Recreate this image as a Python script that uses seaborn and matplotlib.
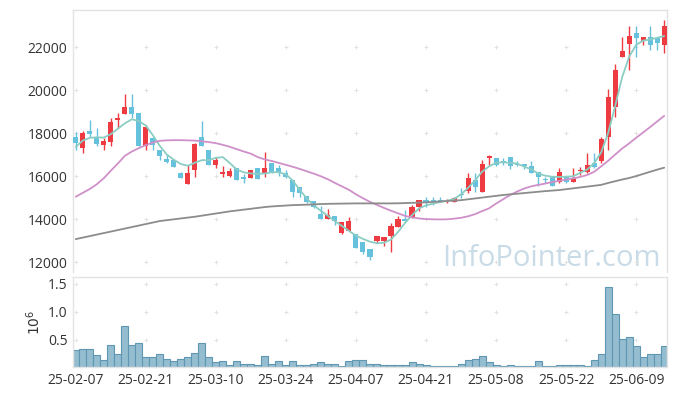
import matplotlib
matplotlib.use("Agg")
import matplotlib.pyplot as plt
import seaborn as sns
import pandas as pd
import numpy as np

# 일봉 데이터 (25-02-07 ~ 25-06-13, 거래일 기준)
opens = [17830, 17320, 18090, 17830, 17440, 17600, 18600, 18900, 19210, 18930,
         17410, 17750, 17210, 16790, 16740, 16140, 15610, 16260, 17830, 17210,
         16510, 16080, 16020, 16360, 15950, 15900, 16360, 16090, 16620, 16360,
         16150, 15810, 15470, 15070, 14840, 14220, 14000, 14160, 13360, 13460,
         13300, 12930, 12590, 12980, 12990, 13220, 13640, 14000, 14070, 14570,
         14910, 14880, 14880, 14820, 14810, 15150, 15320, 15810, 15270, 16820,
         16830, 16710, 16880, 16560, 16560, 16460, 16190, 15880, 16000, 15710,
         15970, 15740, 16250, 16200, 16590, 16700, 17800, 19220, 21550, 22120,
         22630, 22290, 22450, 22400, 22090]
highs = [18060, 18090, 18600, 18220, 17750, 18720, 18920, 19800, 19800, 18950,
         18370, 17830, 17210, 17020, 16760, 16180, 16510, 17520, 18560, 17210,
         16900, 16480, 16360, 16360, 16100, 16280, 16360, 17100, 16620, 16510,
         16280, 15810, 15470, 15070, 14840, 14610, 14450, 14160, 13850, 14080,
         13300, 12930, 12590, 13210, 13160, 13800, 14150, 14400, 14650, 14910,
         15040, 15010, 15010, 14920, 15010, 15430, 16150, 16120, 16730, 16980,
         16830, 16830, 16880, 16710, 16560, 16680, 16190, 15970, 16000, 16390,
         16000, 16360, 16430, 17060, 17060, 17830, 20030, 21210, 22450, 22980,
         22980, 22450, 22980, 22450, 23250]
lows = [17210, 17080, 17830, 17380, 17210, 17410, 18250, 18900, 18680, 17400,
        17210, 17210, 16740, 16590, 16400, 15900, 15610, 15970, 17410, 16510,
        16360, 15970, 15970, 15810, 15660, 15900, 15860, 15970, 16130, 16000,
        15900, 15010, 15010, 14760, 14500, 14000, 14000, 13720, 13300, 13460,
        12640, 12400, 12090, 12870, 12740, 12460, 13640, 13920, 14040, 14390,
        14540, 14650, 14800, 14740, 14810, 14960, 15220, 15270, 15270, 16510,
        16450, 16510, 16310, 16450, 16310, 16150, 15530, 15660, 15550, 15660,
        15660, 15740, 16050, 16150, 16360, 16590, 17210, 18760, 21550, 20930,
        21550, 22100, 21860, 21860, 21730]
closes = [17550, 18020, 17940, 17470, 17650, 18530, 18720, 19210, 18900, 17410,
          18290, 17440, 16940, 16670, 16430, 15920, 16160, 17500, 17420, 16520,
          16740, 16200, 16220, 15820, 15850, 16280, 15870, 16360, 16200, 16130,
          15940, 15270, 15220, 14800, 14570, 14000, 14190, 13920, 13850, 13920,
          12670, 12480, 12220, 13210, 13160, 13700, 14000, 13930, 14540, 14910,
          14740, 14840, 14840, 14860, 14960, 15110, 15890, 15470, 16540, 16930,
          16510, 16620, 16470, 16500, 16480, 16150, 15970, 15840, 15550, 16170,
          15740, 15890, 16300, 16510, 16430, 17720, 19660, 20930, 21810, 22510,
          22430, 22450, 22090, 22170, 22980]

# 이동평균선
ma5 = [17360, 17650, 17780, 17800, 17790, 17950, 18200, 18450, 18640, 18560,
       18350, 17900, 17400, 17000, 16760, 16560, 16480, 16620, 16740, 16740,
       16850, 16880, 16600, 16300, 16170, 16120, 16100, 16120, 16180, 16180,
       16080, 15780, 15350, 14950, 14640, 14380, 14150, 13900, 13680, 13450,
       13230, 13080, 12950, 12880, 12900, 13050, 13400, 13820, 14180, 14500,
       14640, 14720, 14790, 14860, 14930, 15150, 15450, 15800, 16200, 16450,
       16620, 16640, 16620, 16580, 16440, 16320, 16120, 16020, 15970, 15960,
       15970, 15990, 16150, 16300, 16600, 17100, 18000, 19250, 20600, 21550,
       22100, 22300, 22350, 22430, 22510]
ma20 = [15040, 15220, 15400, 15620, 15900, 16250, 16580, 16940, 17140, 17300,
        17440, 17560, 17640, 17660, 17670, 17670, 17660, 17650, 17620, 17580,
        17530, 17450, 17360, 17250, 17140, 17040, 16880, 16770, 16700, 16610,
        16520, 16430, 16330, 16220, 16110, 15990, 15850, 15680, 15520, 15360,
        15150, 14970, 14800, 14660, 14520, 14390, 14270, 14150, 14080, 14030,
        14000, 13990, 13985, 13990, 14020, 14060, 14130, 14230, 14370, 14500,
        14720, 14920, 15120, 15280, 15420, 15520, 15590, 15650, 15720, 15780,
        15840, 15890, 15960, 16050, 16200, 16450, 16710, 17000, 17280, 17520,
        17780, 18030, 18280, 18540, 18800]
ma60 = [13070, 13140, 13210, 13280, 13350, 13420, 13490, 13560, 13630, 13700,
        13770, 13840, 13910, 13950, 13990, 14030, 14070, 14110, 14160, 14210,
        14260, 14310, 14360, 14400, 14440, 14480, 14520, 14560, 14590, 14610,
        14630, 14650, 14660, 14670, 14685, 14700, 14710, 14715, 14720, 14725,
        14730, 14730, 14730, 14730, 14730, 14730, 14735, 14745, 14755, 14765,
        14780, 14800, 14820, 14840, 14860, 14880, 14920, 14960, 15000, 15040,
        15080, 15120, 15150, 15180, 15210, 15240, 15270, 15300, 15325, 15350,
        15390, 15430, 15470, 15510, 15550, 15590, 15680, 15760, 15840, 15910,
        16000, 16100, 16200, 16300, 16390]

# 거래량 (단위: 10^6)
volume = [0.32, 0.335, 0.335, 0.23, 0.14, 0.41, 0.25, 0.74, 0.41, 0.44,
          0.18, 0.18, 0.25, 0.16, 0.11, 0.16, 0.18, 0.26, 0.44, 0.19,
          0.09, 0.11, 0.05, 0.12, 0.07, 0.07, 0.05, 0.21, 0.07, 0.11,
          0.05, 0.12, 0.05, 0.05, 0.07, 0.09, 0.07, 0.07, 0.035, 0.11,
          0.14, 0.13, 0.07, 0.07, 0.05, 0.05, 0.05, 0.05, 0.09, 0.07,
          0.05, 0.035, 0.035, 0.035, 0.035, 0.07, 0.14, 0.16, 0.21, 0.09,
          0.05, 0.035, 0.05, 0.035, 0.035, 0.035, 0.11, 0.02, 0.035, 0.05,
          0.05, 0.05, 0.05, 0.035, 0.14, 0.25, 1.44, 0.95, 0.51, 0.55,
          0.39, 0.18, 0.25, 0.25, 0.39]

tick_labels = ["25-02-07", "25-02-21", "25-03-10", "25-03-24", "25-04-07",
               "25-04-21", "25-05-08", "25-05-22", "25-06-09"]

RED = "#ee3b41"
BLUE = "#66c1dd"
GRID = "#e2e2e2"
SPINE = "#e3e3e3"

df = pd.DataFrame({"open": opens, "high": highs, "low": lows, "close": closes,
                   "vol": volume})
df["i"] = np.arange(len(df))

sns.set_theme(style="white")
plt.rcParams["font.family"] = ["Open Sans", "DejaVu Sans"]

fig = plt.figure(figsize=(6.77, 3.96), dpi=100)
ax = fig.add_axes([0.1078, 0.3131, 0.8774, 0.6616])
axv = fig.add_axes([0.1078, 0.0720, 0.8774, 0.2273], sharex=ax)

# 캔들
colors = np.where(df.close >= df.open, RED, BLUE)
ax.vlines(df.i, df.low, df.high, colors=colors, lw=1, zorder=2)
body = (df.close - df.open).abs().clip(lower=30)
ax.bar(df.i, body, bottom=df[["open", "close"]].min(axis=1), width=0.72,
       color=colors, lw=0, zorder=3)

# 이동평균선
ma = pd.DataFrame({"i": df.i, "MA5": ma5, "MA20": ma20, "MA60": ma60})
ma = ma.melt(id_vars="i", var_name="line", value_name="price")
sns.lineplot(data=ma, x="i", y="price", hue="line",
             palette={"MA5": "#8bcdc3", "MA20": "#cf90c9", "MA60": "#8c8c8c"},
             legend=False, lw=1.3, ax=ax, zorder=4)

# 거래량
axv.bar(df.i, df.vol, width=1.0, color="#94bdd0", edgecolor="#5f97b3",
        lw=0.8, zorder=2)

xt = list(range(0, len(df), 10))
ax.set_xlim(-0.4, 84.4)
ax.set_ylim(11540, 23720)
ax.set_yticks(range(12000, 22001, 2000))
axv.set_ylim(0, 1.61)
axv.set_yticks([0.5, 1.0, 1.5])
axv.set_xticks(xt)
axv.set_xticklabels(tick_labels)
ax.tick_params(labelbottom=False)

for a, yt in [(ax, range(12000, 22001, 2000)), (axv, [0.5, 1.0, 1.5])]:
    gx, gy = np.meshgrid(xt, list(yt))
    a.scatter(gx.ravel(), gy.ravel(), marker="+", s=10, color=GRID, lw=0.7,
              zorder=1)
    a.set_xlabel("")
    a.set_ylabel("")
    a.tick_params(length=0, labelsize=10, colors="#333333", pad=4)
    for s in a.spines.values():
        s.set_color(SPINE)
        s.set_linewidth(1)
ax.spines["bottom"].set_visible(False)

axv.set_ylabel(r"$10^6$", fontsize=10, color="#333333", labelpad=3)

# 워터마크
ax.text(551 / 677, 1 - 265.7 / 396, "InfoPointer.com", transform=fig.transFigure,
        ha="center", va="baseline", fontsize=21, color="#c3d8e4", alpha=0.9,
        zorder=0)

fig.savefig("out.png", dpi=100)
